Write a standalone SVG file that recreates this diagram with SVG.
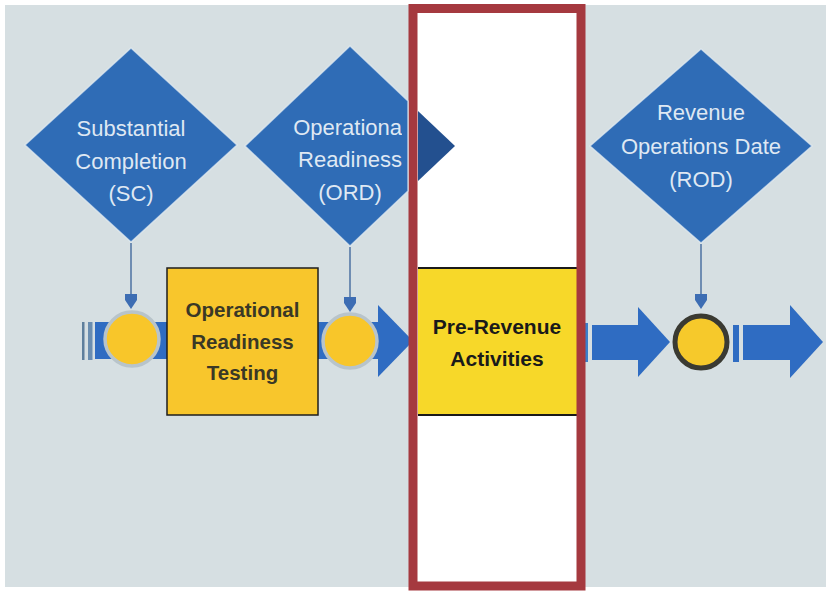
<svg xmlns="http://www.w3.org/2000/svg" width="826" height="591" viewBox="0 0 826 591">
  <style>
    .dia { fill: #2f6cb6; stroke: #e6eef4; stroke-width: 1.5; stroke-opacity: 0.7; }
    .dtxt { font-family: "Liberation Sans", Arial, sans-serif; font-size: 22px; fill: #dfe8f3; text-anchor: middle; }
    .btxt { font-family: "Liberation Sans", Arial, sans-serif; font-weight: bold; font-size: 20.5px; text-anchor: middle; }
    .bar { fill: #2f6cc2; }
    .conn { stroke: #6f8db2; stroke-width: 2; fill: none; }
    .knob { fill: #3d6db3; }
  </style>
  <defs>
    <clipPath id="ordclip"><rect x="0" y="0" width="402" height="591"/></clipPath>
  </defs>

  <rect x="0" y="0" width="826" height="591" fill="#ffffff"/>
  <rect x="5" y="5" width="821" height="582" fill="#d6dfe2"/>

  <g id="timeline">
    <rect x="82" y="322" width="2.5" height="38" fill="#5f7f9c"/>
    <rect x="88" y="322" width="4.5" height="38" fill="#6a8db0"/>
    <rect x="95" y="322" width="290" height="37" class="bar" fill="#3b6cc3"/>
    <polygon points="378,305 413,341 378,377" class="bar"/>
    <rect x="583" y="323" width="5" height="39" fill="#3a7fcc"/>
    <rect x="592" y="325" width="48" height="35" class="bar"/>
    <polygon points="638,307 670,342 638,377" class="bar"/>
    <rect x="733" y="325" width="6" height="37" class="bar"/>
    <rect x="743" y="325" width="49" height="35" class="bar"/>
    <polygon points="790,305 823,342 790,378" class="bar"/>
  </g>

  <g id="connectors">
    <line x1="131" y1="243" x2="131" y2="296" class="conn"/>
    <path d="M125,294 L137,294 L137,300 L131,309 L125,300 Z" class="knob"/>
    <line x1="350" y1="247" x2="350" y2="298" class="conn"/>
    <path d="M344,297 L356,297 L356,303 L350,312 L344,303 Z" class="knob"/>
    <line x1="701" y1="244" x2="701" y2="295" class="conn"/>
    <path d="M695,294 L707,294 L707,300 L701,309 L695,300 Z" class="knob"/>
  </g>

  <g id="sc-milestone">
    <circle cx="132" cy="339" r="27" fill="#f8c62a" stroke="#b8c4ca" stroke-width="3.5"/>
  </g>
  <g id="ord-milestone">
    <circle cx="350" cy="341" r="27" fill="#f8c62a" stroke="#b8c4ca" stroke-width="3.5"/>
  </g>
  <g id="rod-milestone">
    <circle cx="701" cy="342" r="26" fill="#f6c92b" stroke="#3a3a32" stroke-width="5"/>
  </g>

  <g id="sc">
    <polygon points="131,48 237,145 131,242 25,145" class="dia"/>
    <text class="dtxt" x="131" y="136">Substantial</text>
    <text class="dtxt" x="131" y="169">Completion</text>
    <text class="dtxt" x="131" y="201">(SC)</text>
  </g>

  <g id="ort">
    <rect x="167" y="268" width="151" height="147" fill="#f8c62c" stroke="#1e1e1e" stroke-width="1.5"/>
    <text class="btxt" x="242.5" y="317" fill="#3a3826">Operational</text>
    <text class="btxt" x="242.5" y="349" fill="#3a3826">Readiness</text>
    <text class="btxt" x="242.5" y="380" fill="#3a3826">Testing</text>
  </g>

  <g id="pre-revenue">
    <rect x="413" y="8.5" width="168" height="577.5" fill="#ffffff"/>
    <rect x="418" y="268" width="159" height="147" fill="#f7d829"/>
    <line x1="418" y1="268" x2="577" y2="268" stroke="#1a1a1a" stroke-width="2"/>
    <line x1="418" y1="415" x2="577" y2="415" stroke="#1a1a1a" stroke-width="2"/>
    <text class="btxt" x="497" y="334" fill="#1a1a1a" style="font-size:21px">Pre-Revenue</text>
    <text class="btxt" x="497" y="366" fill="#1a1a1a" style="font-size:21px">Activities</text>
    <rect x="413" y="8.5" width="168" height="577.5" fill="none" stroke="#a5393f" stroke-width="9"/>
  </g>

  <g id="ord">
    <polygon points="350,46 408,101 408,191 350,246 245,146" class="dia"/>
    <polygon points="418,111 455,146 418,181" fill="#23508f"/>
    <g clip-path="url(#ordclip)">
      <text class="dtxt" x="350" y="135">Operational</text>
    </g>
    <text class="dtxt" x="350" y="167">Readiness</text>
    <text class="dtxt" x="350" y="200">(ORD)</text>
  </g>

  <g id="rod">
    <polygon points="701,49 812,146 701,243 590,146" class="dia"/>
    <text class="dtxt" x="701" y="120">Revenue</text>
    <text class="dtxt" x="701" y="154">Operations Date</text>
    <text class="dtxt" x="701" y="187">(ROD)</text>
  </g>
</svg>
